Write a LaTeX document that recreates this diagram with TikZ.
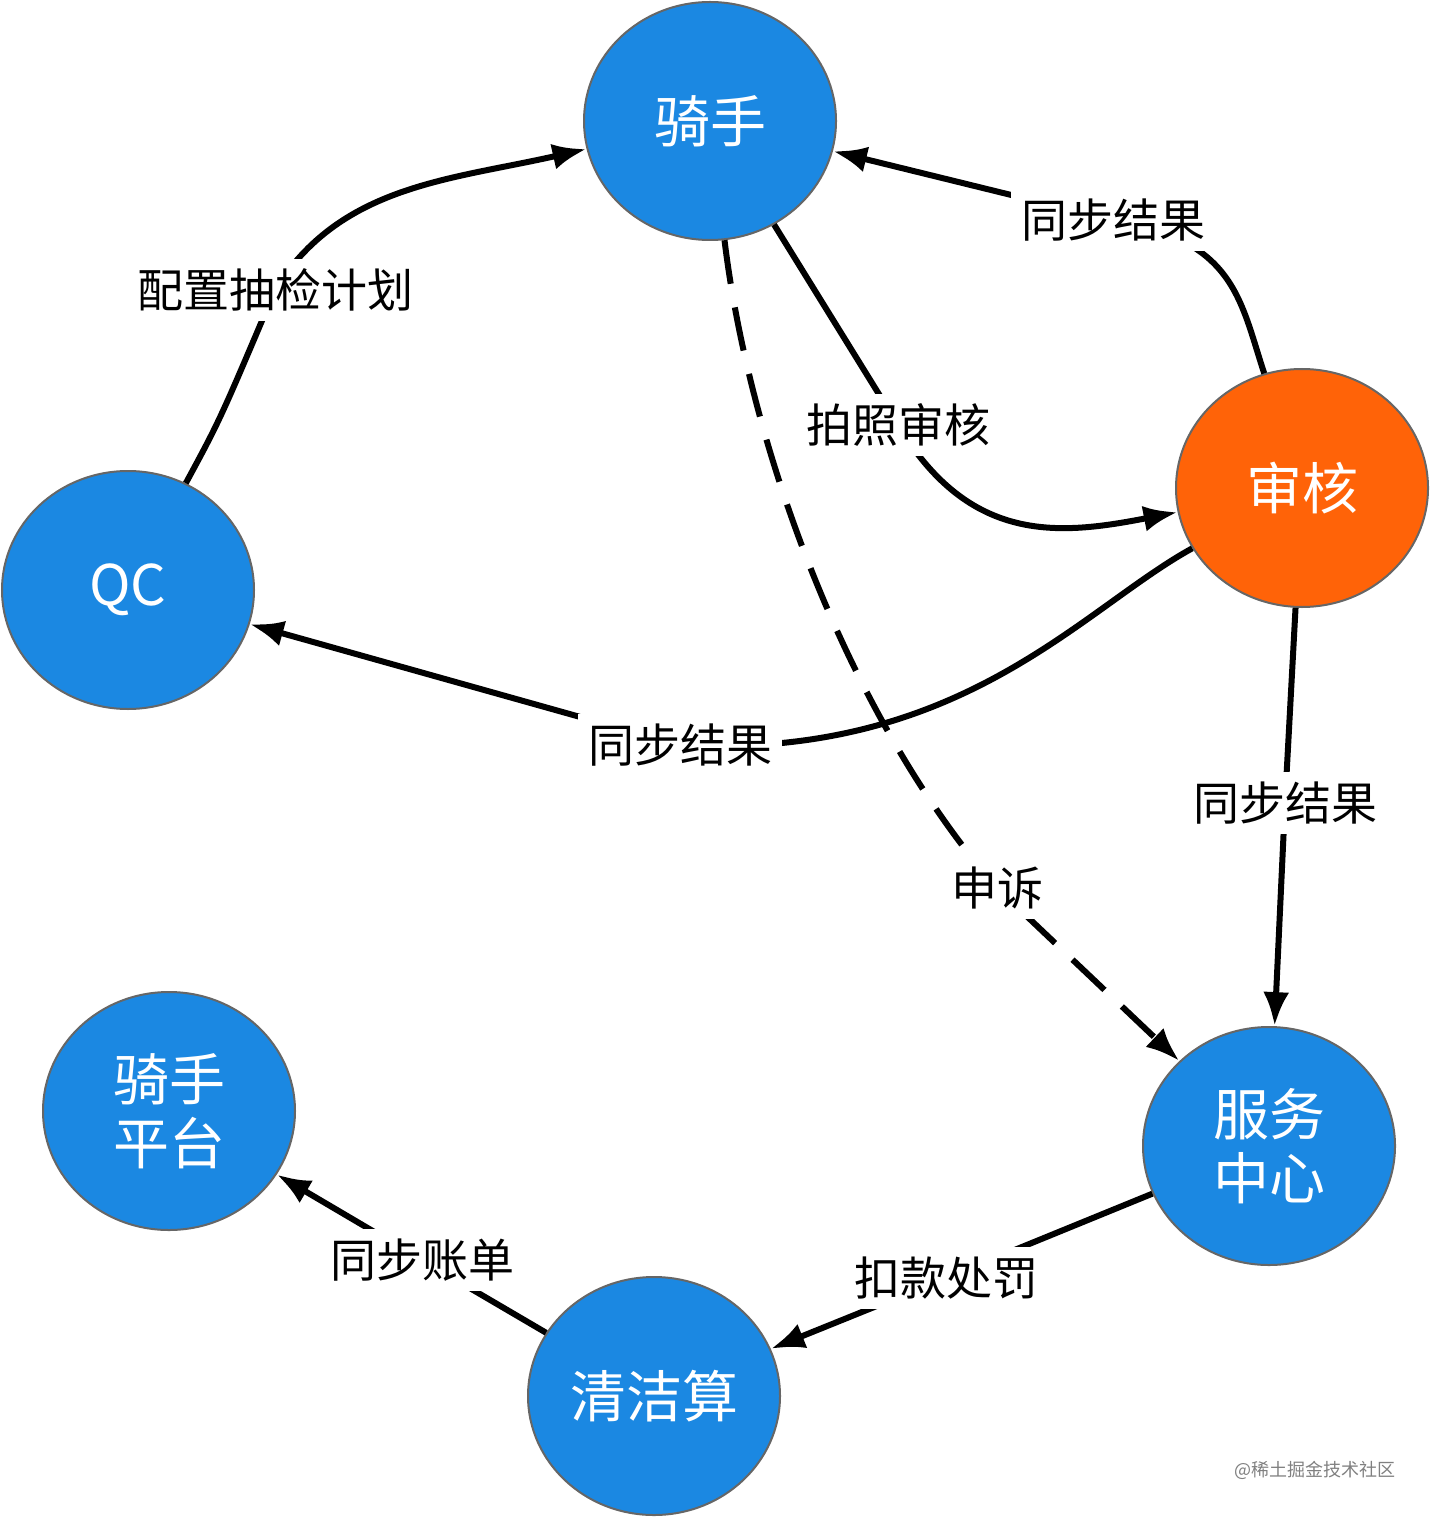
\documentclass[tikz,border=0pt]{standalone}
\usepackage{fontspec}
\setmainfont{Noto Sans CJK SC}
\usetikzlibrary{shapes.geometric,arrows.meta}
\definecolor{nblue}{HTML}{1B88E2}
\definecolor{norange}{HTML}{FF6308}
\tikzset{
 n/.style={ellipse,draw=gray!80!black,line width=1pt,fill=nblue,minimum width=126pt,minimum height=119pt,text=white,font=\fontsize{28}{34}\selectfont,align=center,inner sep=0pt},
 lab/.style={fill=white,font=\fontsize{23}{28}\selectfont,inner sep=5pt},
 e/.style={line width=3pt,-{Latex[length=17pt,width=13pt]}},
}
\begin{document}
\begin{tikzpicture}[x=0.5pt,y=-0.5pt]
\useasboundingbox (0,0) rectangle (1431,1518);
\node[n] (rider) at (710,121) {骑手};
\node[n,fill=norange] (audit) at (1302,488) {审核};
\node[n] (qc) at (128,590) {QC};
\node[n] (plat) at (169,1111) {骑手\\[-2pt]平台};
\node[n] (svc) at (1269,1146) {服务\\[-2pt]中心};
\node[n] (clean) at (654,1396) {清洁算};
\coordinate (l1) at (275,290);
\coordinate (l2) at (1113,220);
\coordinate (l3) at (898,425);
\coordinate (l4) at (680,745);
\coordinate (l5) at (1285,803);
\coordinate (l6) at (997,888);
\coordinate (l7) at (946,1278);
\coordinate (l8) at (422,1260);
\draw[e] (qc) .. controls (220,420) .. (l1) .. controls (340,185) and (450,180) .. (rider);
\draw[e] (audit) .. controls (1240,300) and (1235,240) .. (l2) -- (rider);
\draw[e] (rider) -- (l3) .. controls (970,545) and (1060,535) .. (audit);
\draw[e] (audit) .. controls (1080,610) and (960,760) .. (l4) -- (qc);
\draw[e] (audit) -- (l5) -- (svc);
\draw[e,dash pattern=on 22pt off 12pt] (rider) .. controls (750,450) and (850,720) .. (l6) -- (svc);
\draw[e] (svc) -- (l7) -- (clean);
\draw[e] (clean) -- (l8) -- (plat);
\node[lab] at (l1) {配置抽检计划};
\node[lab] at (l2) {同步结果};
\node[lab] at (l3) {拍照审核};
\node[lab] at (l4) {同步结果};
\node[lab] at (l5) {同步结果};
\node[lab] at (l6) {申诉};
\node[lab] at (l7) {扣款处罚};
\node[lab] at (l8) {同步账单};
\node[text=gray,font=\fontsize{9}{11}\selectfont] (wm) at (1315,1470) {@稀土掘金技术社区};
\end{tikzpicture}
\end{document}
